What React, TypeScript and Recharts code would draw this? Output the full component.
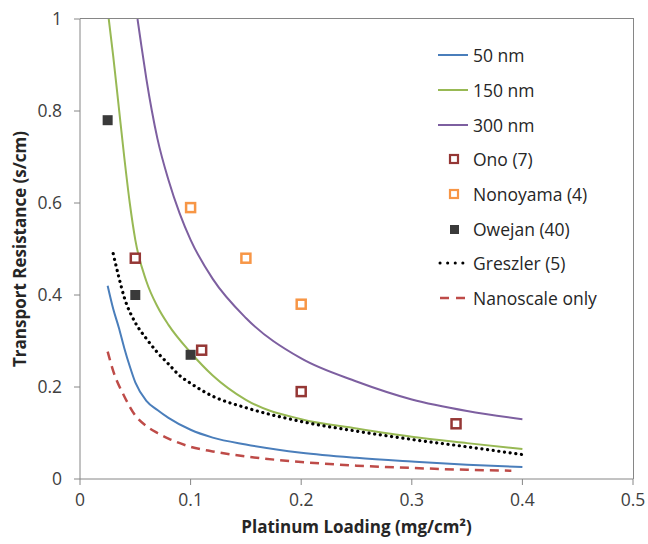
import {
  ComposedChart,
  Label,
  Legend,
  Line,
  Scatter,
  XAxis,
  YAxis,
} from 'recharts';

const FONT = '"Open Sans", "Liberation Sans", sans-serif';

// model curves: platinum loading (mg/cm2) vs transport resistance (s/cm)
const LOAD_50 = [0.025, 0.03, 0.035, 0.04, 0.045, 0.05, 0.06, 0.07, 0.08, 0.1, 0.12, 0.15, 0.2, 0.25, 0.3, 0.35, 0.4];
const RES_50 = [0.42, 0.37, 0.33, 0.285, 0.245, 0.21, 0.17, 0.15, 0.133, 0.107, 0.09, 0.075, 0.057, 0.046, 0.038, 0.031, 0.026];

const LOAD_150 = [0.026, 0.03, 0.035, 0.04, 0.045, 0.05, 0.06, 0.07, 0.08, 0.1, 0.12, 0.15, 0.2, 0.25, 0.3, 0.35, 0.4];
const RES_150 = [1.0, 0.92, 0.81, 0.7, 0.6, 0.52, 0.43, 0.375, 0.335, 0.275, 0.225, 0.172, 0.13, 0.11, 0.092, 0.078, 0.065];

const LOAD_300 = [0.052, 0.055, 0.06, 0.065, 0.07, 0.08, 0.09, 0.1, 0.12, 0.15, 0.2, 0.25, 0.3, 0.35, 0.4];
const RES_300 = [1.0, 0.95, 0.87, 0.8, 0.74, 0.65, 0.578, 0.52, 0.435, 0.35, 0.262, 0.212, 0.173, 0.148, 0.13];

const LOAD_GRESZLER = [0.03, 0.035, 0.04, 0.05, 0.06, 0.07, 0.08, 0.09, 0.1, 0.12, 0.15, 0.2, 0.25, 0.3, 0.35, 0.4];
const RES_GRESZLER = [0.49, 0.44, 0.395, 0.34, 0.305, 0.275, 0.25, 0.225, 0.208, 0.18, 0.155, 0.125, 0.104, 0.086, 0.07, 0.053];

const LOAD_NANO = [0.025, 0.03, 0.04, 0.05, 0.06, 0.07, 0.08, 0.1, 0.12, 0.15, 0.2, 0.25, 0.3, 0.35, 0.39];
const RES_NANO = [0.277, 0.235, 0.18, 0.138, 0.115, 0.1, 0.088, 0.07, 0.06, 0.049, 0.037, 0.029, 0.024, 0.02, 0.018];

// measured points
const LOAD_ONO = [0.05, 0.11, 0.2, 0.34];
const RES_ONO = [0.48, 0.28, 0.19, 0.12];

const LOAD_NONOYAMA = [0.1, 0.15, 0.2];
const RES_NONOYAMA = [0.59, 0.48, 0.38];

const LOAD_OWEJAN = [0.025, 0.05, 0.1];
const RES_OWEJAN = [0.78, 0.4, 0.27];

const X_TICKS = [0, 0.1, 0.2, 0.3, 0.4, 0.5];
const Y_TICKS = [0, 0.2, 0.4, 0.6, 0.8, 1];

const zip = (xs: number[], ys: number[]) => xs.map((x, i) => ({ x, y: ys[i] }));

type Kind = 'line' | 'dot' | 'dash' | 'open' | 'filled';

const SERIES: { name: string; kind: Kind; color: string }[] = [
  { name: '50 nm', kind: 'line', color: '#4a7ebb' },
  { name: '150 nm', kind: 'line', color: '#98b954' },
  { name: '300 nm', kind: 'line', color: '#7d5fa0' },
  { name: 'Ono (7)', kind: 'open', color: '#953735' },
  { name: 'Nonoyama (4)', kind: 'open', color: '#f79646' },
  { name: 'Owejan (40)', kind: 'filled', color: '#3a3a3a' },
  { name: 'Greszler (5)', kind: 'dot', color: '#000000' },
  { name: 'Nanoscale only', kind: 'dash', color: '#be4b48' },
];

const color = (name: string) => SERIES.find((s) => s.name === name)!.color;

// chart box and margins; the plot frame overlay is placed from these
const W = 648;
const H = 544;
const MARGIN = { top: 19, right: 15, bottom: 3, left: 0 };
const Y_AXIS_W = 80;
const X_AXIS_H = 62;

function OpenSquare(props: any) {
  const { cx, cy, fill } = props;
  return <rect x={cx - 4.5} y={cy - 4.5} width={9} height={9} fill="#fff" stroke={fill} strokeWidth={2.5} />;
}

function FilledSquare(props: any) {
  const { cx, cy, fill } = props;
  return <rect x={cx - 5} y={cy - 5} width={10} height={10} fill={fill} />;
}

function LegendIcon({ kind, c }: { kind: Kind; c: string }) {
  if (kind === 'open') return <rect x={12} y={5} width={8} height={8} fill="#fff" stroke={c} strokeWidth={2.2} />;
  if (kind === 'filled') return <rect x={12} y={5} width={9} height={9} fill={c} />;
  if (kind === 'dot')
    return <line x1={2} y1={9} x2={30} y2={9} stroke={c} strokeWidth={3} strokeDasharray="0.1 7.5" strokeLinecap="round" />;
  if (kind === 'dash') return <line x1={2} y1={9} x2={30} y2={9} stroke={c} strokeWidth={2.5} strokeDasharray="9 7" />;
  return <line x1={0} y1={9} x2={30} y2={9} stroke={c} strokeWidth={2} />;
}

function ChartLegend() {
  return (
    <div style={{ fontFamily: FONT, fontSize: 17.5, color: '#262626' }}>
      {SERIES.map((s) => (
        <div key={s.name} style={{ display: 'flex', alignItems: 'center', height: 34.7 }}>
          <svg width={32} height={18} style={{ marginRight: 3 }}>
            <LegendIcon kind={s.kind} c={s.color} />
          </svg>
          <span>{s.name}</span>
        </div>
      ))}
    </div>
  );
}

const tickStyle = { fontFamily: FONT, fontSize: 17.5, fill: '#404040' };
const titleStyle = { fontFamily: FONT, fontSize: 17, fontWeight: 700, fill: '#262626' };

export default function App() {
  const plotLeft = MARGIN.left + Y_AXIS_W;
  const plotRight = W - MARGIN.right;
  const plotTop = MARGIN.top;
  const plotBottom = H - MARGIN.bottom - X_AXIS_H;
  return (
    <div style={{ position: 'fixed', left: 0, top: 0, width: W, height: H, background: '#fff', overflow: 'hidden' }}>
      <ComposedChart width={W} height={H} margin={MARGIN}>
        <XAxis
          type="number"
          dataKey="x"
          domain={[0, 0.5]}
          ticks={X_TICKS}
          tick={tickStyle}
          tickSize={6}
          tickMargin={9}
          stroke="#868686"
          height={X_AXIS_H}
          allowDataOverflow
        >
          <Label value="Platinum Loading (mg/cm²)" position="insideBottom" offset={8} style={titleStyle} />
        </XAxis>
        <YAxis
          type="number"
          dataKey="y"
          domain={[0, 1]}
          ticks={Y_TICKS}
          tick={tickStyle}
          tickSize={6}
          tickMargin={12}
          stroke="#868686"
          width={Y_AXIS_W}
          allowDataOverflow
        >
          <Label
            value="Transport Resistance (s/cm)"
            angle={-90}
            position="insideLeft"
            offset={20}
            style={{ ...titleStyle, textAnchor: 'middle' }}
          />
        </YAxis>
        <Line
          name="50 nm"
          data={zip(LOAD_50, RES_50)}
          dataKey="y"
          type="monotone"
          stroke={color('50 nm')}
          strokeWidth={2}
          dot={false}
          isAnimationActive={false}
        />
        <Line
          name="150 nm"
          data={zip(LOAD_150, RES_150)}
          dataKey="y"
          type="monotone"
          stroke={color('150 nm')}
          strokeWidth={2}
          dot={false}
          isAnimationActive={false}
        />
        <Line
          name="300 nm"
          data={zip(LOAD_300, RES_300)}
          dataKey="y"
          type="monotone"
          stroke={color('300 nm')}
          strokeWidth={2}
          dot={false}
          isAnimationActive={false}
        />
        <Line
          name="Greszler (5)"
          data={zip(LOAD_GRESZLER, RES_GRESZLER)}
          dataKey="y"
          type="monotone"
          stroke={color('Greszler (5)')}
          strokeWidth={3.2}
          strokeDasharray="0.1 5.6"
          strokeLinecap="round"
          dot={false}
          isAnimationActive={false}
        />
        <Line
          name="Nanoscale only"
          data={zip(LOAD_NANO, RES_NANO)}
          dataKey="y"
          type="monotone"
          stroke={color('Nanoscale only')}
          strokeWidth={2.5}
          strokeDasharray="9 6"
          dot={false}
          isAnimationActive={false}
        />
        <Scatter
          name="Ono (7)"
          data={zip(LOAD_ONO, RES_ONO)}
          fill={color('Ono (7)')}
          shape={OpenSquare}
          isAnimationActive={false}
        />
        <Scatter
          name="Nonoyama (4)"
          data={zip(LOAD_NONOYAMA, RES_NONOYAMA)}
          fill={color('Nonoyama (4)')}
          shape={OpenSquare}
          isAnimationActive={false}
        />
        <Scatter
          name="Owejan (40)"
          data={zip(LOAD_OWEJAN, RES_OWEJAN)}
          fill={color('Owejan (40)')}
          shape={FilledSquare}
          isAnimationActive={false}
        />
        <Legend
          content={<ChartLegend />}
          layout="vertical"
          verticalAlign="middle"
          align="center"
          wrapperStyle={{ left: 438, top: 38, width: 200 }}
        />
      </ComposedChart>
      {/* top and right edges of the plot frame */}
      <div
        style={{
          position: 'absolute',
          left: plotLeft,
          top: plotTop - 0.75,
          width: plotRight - plotLeft + 0.75,
          height: plotBottom - plotTop + 0.75,
          borderTop: '1.5px solid #868686',
          borderRight: '1.5px solid #868686',
          boxSizing: 'border-box',
          pointerEvents: 'none',
        }}
      />
    </div>
  );
}
